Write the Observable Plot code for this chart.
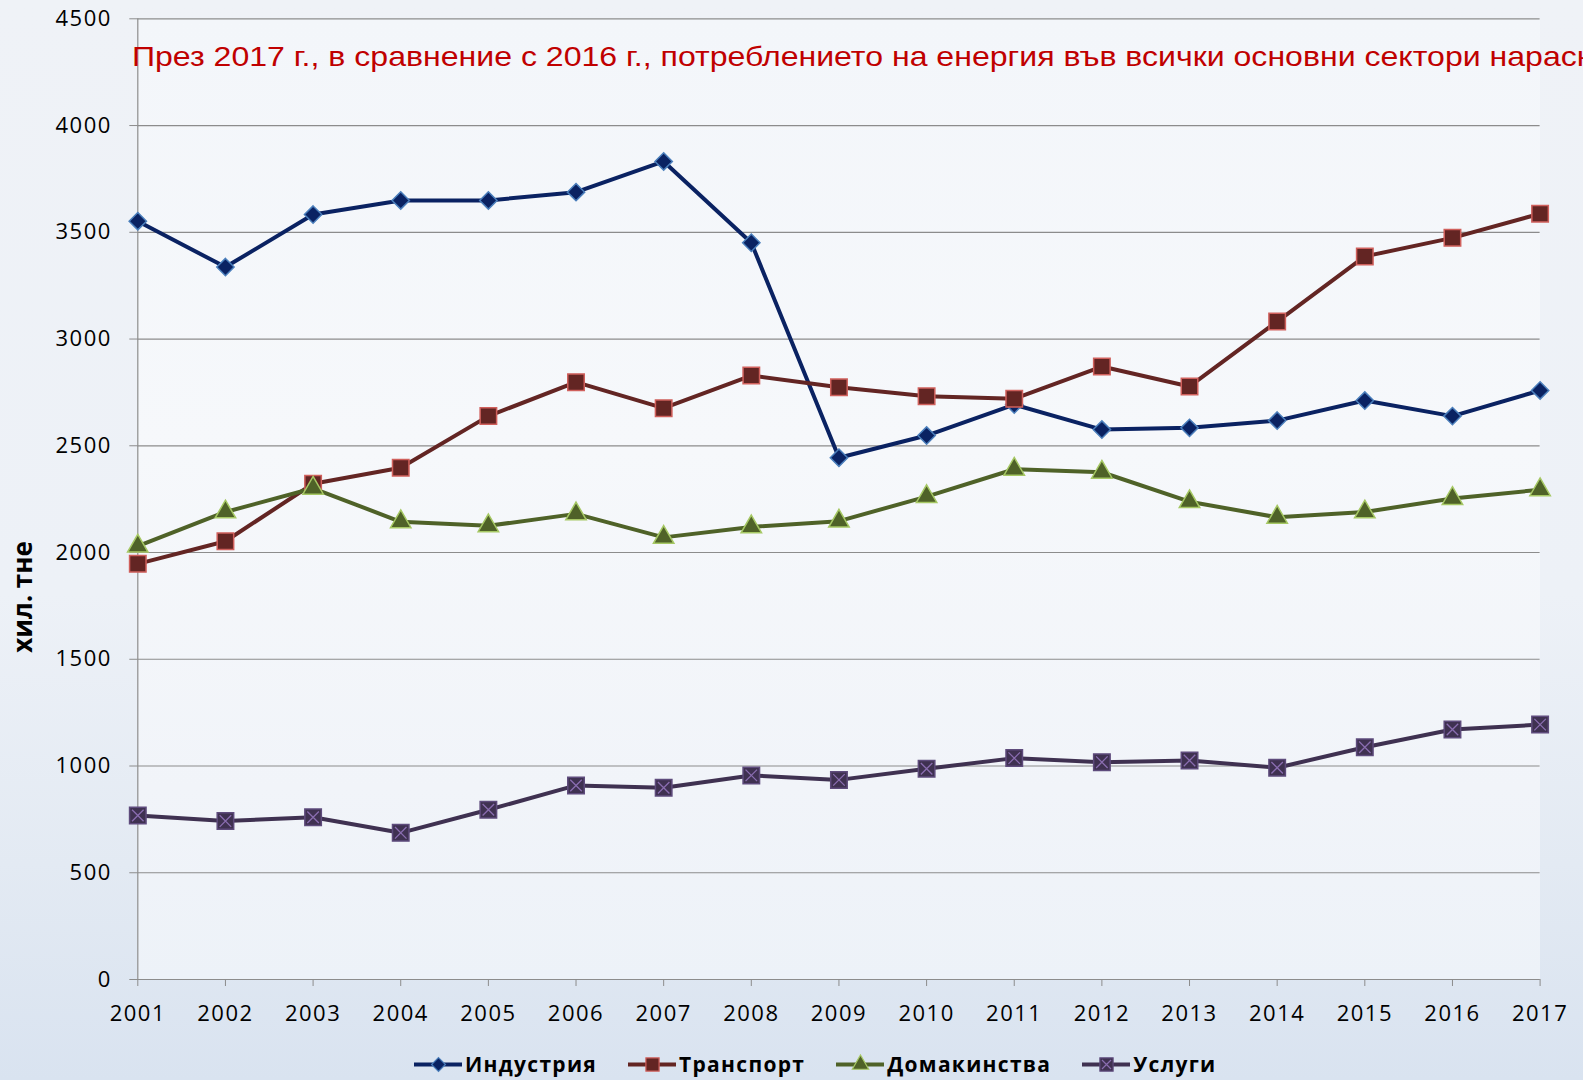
<!DOCTYPE html>
<html>
<head>
<meta charset="utf-8">
<script src="https://cdn.jsdelivr.net/npm/d3@7"></script>
<script src="https://cdn.jsdelivr.net/npm/@observablehq/plot@0.6"></script>
<style>
  html, body { margin: 0; padding: 0; width: 1583px; height: 1080px; overflow: hidden; }
  body {
    position: relative;
    background: linear-gradient(180deg, #EFF2F7 0%, #EDF1F7 55%, #E3EAF3 80%, #D9E3F0 100%);
    font-family: "Open Sans", sans-serif;
  }
  #plotbg {
    position: absolute; left: 137px; top: 18px; width: 1403px; height: 961px;
    background: linear-gradient(180deg, #F3F6FA 0%, #F6F8FB 45%, #F1F4F9 80%, #EDF2F8 100%);
  }
  #chart { position: absolute; left: 0; top: 0; }
  #title {
    position: absolute; left: 132px; top: 43px;
    font-family: "Liberation Sans", Arial, sans-serif; font-size: 28px; line-height: 28px;
    color: #C00000; white-space: nowrap;
    transform: scaleX(1.145); transform-origin: 0 0;
  }
  #ylabel {
    position: absolute; left: 22px; top: 597px;
    transform: translate(-50%, -50%) rotate(-90deg);
    font-family: "Open Sans", sans-serif; font-weight: 700; font-size: 26px;
    white-space: nowrap; color: #000;
  }
  #legend {
    position: absolute; left: 414px; top: 1050px; height: 28px;
    display: flex; align-items: center; gap: 31px;
    font-family: "Open Sans", sans-serif; font-weight: 700; font-size: 21px; color: #000;
    letter-spacing: 1.3px;
  }
  .item { display: flex; align-items: center; gap: 3px; white-space: nowrap; }
  .item svg { display: block; }
</style>
</head>
<body>
<div id="plotbg"></div>
<div id="chart"></div>
<div id="title"></div>
<div id="ylabel"></div>
<div id="legend"></div>
<script>
const years = [2001, 2002, 2003, 2004, 2005, 2006, 2007, 2008, 2009, 2010, 2011, 2012, 2013, 2014, 2015, 2016, 2017];
const seriesNames = ["Индустрия", "Транспорт", "Домакинства", "Услуги"];
const industry   = [3552, 3337, 3583, 3649, 3649, 3688, 3832, 3451, 2444, 2548, 2693, 2576, 2584, 2618, 2712, 2639, 2759];
const transport  = [1947, 2053, 2322, 2397, 2639, 2798, 2676, 2829, 2774, 2732, 2720, 2871, 2778, 3082, 3387, 3474, 3587];
const households = [2030, 2190, 2301, 2144, 2125, 2181, 2071, 2120, 2147, 2262, 2390, 2376, 2238, 2165, 2190, 2253, 2294];
const services   = [768, 742, 760, 687, 795, 909, 898, 956, 935, 987, 1037, 1018, 1026, 992, 1088, 1171, 1194];
const yTicks = [0, 500, 1000, 1500, 2000, 2500, 3000, 3500, 4000, 4500];
const titleText = "През 2017 г., в сравнение с 2016 г., потреблението на енергия във всички основни сектори нарасна.";
const yLabelText = "хил. тне";

const styles = [
  {line: "#0A2262", fill: "#0A2262", stroke: "#4A7EBB", symbol: "diamond2", r: 7.8},
  {line: "#632523", fill: "#632523", stroke: "#D0605C", symbol: "square", r: 9.3},
  {line: "#4F6228", fill: "#4F6228", stroke: "#A6C864", symbol: "triangle", r: 7.6},
  {line: "#3F3151", fill: "#3F3151", stroke: "#5E4B7C", symbol: "square", r: 9.3, cross: "#8A6DB0"}
];
const values = [industry, transport, households, services];
const data = seriesNames.map((name, s) => years.map((year, i) => ({year, value: values[s][i], series: name})));

const marks = [
  Plot.gridY(yTicks, {stroke: "#8C8C8C", strokeOpacity: 1, strokeWidth: 1.2}),
  Plot.ruleX([2001], {stroke: "#8C8C8C", strokeWidth: 1.2}),
  Plot.ruleY([0], {stroke: "#8C8C8C", strokeWidth: 1.2}),
  Plot.axisY({ticks: yTicks, tickFormat: d => String(d), tickSize: 8, tickPadding: 18, stroke: "#8C8C8C", fill: "#000", label: null}),
  Plot.axisX({ticks: years, tickFormat: d => String(d), tickSize: 7, tickPadding: 19, stroke: "#8C8C8C", fill: "#000", label: null})
];
data.forEach((d, s) => {
  const st = styles[s];
  marks.push(Plot.line(d, {x: "year", y: "value", stroke: st.line, strokeWidth: 4, strokeLinejoin: "round"}));
});
data.forEach((d, s) => {
  const st = styles[s];
  marks.push(Plot.dot(d, {x: "year", y: "value", symbol: st.symbol, r: st.r, fill: st.fill, stroke: st.stroke, strokeWidth: 1.5}));
  if (st.cross) marks.push(Plot.dot(d, {x: "year", y: "value", symbol: "times", r: 5.3, stroke: st.cross, strokeWidth: 1.3}));
});

const chart = Plot.plot({
  width: 1583, height: 1040,
  marginLeft: 137.3, marginRight: 43.4, marginTop: 18.3, marginBottom: 61,
  style: {background: "transparent", fontFamily: "'Open Sans', sans-serif", fontSize: "22px", color: "#000", overflow: "visible"},
  x: {type: "linear", domain: [2001, 2017]},
  y: {domain: [0, 4500]},
  marks
});
chart.querySelectorAll("text").forEach(t => t.style.letterSpacing = "1.5px");
document.getElementById("chart").appendChild(chart);
document.getElementById("title").textContent = titleText;
document.getElementById("ylabel").textContent = yLabelText;

// legend
const legend = document.getElementById("legend");
seriesNames.forEach((name, s) => {
  const st = styles[s];
  const item = document.createElement("div");
  item.className = "item";
  const sw = Plot.plot({
    width: 48, height: 24, margin: 0,
    x: {domain: [0, 1], axis: null}, y: {domain: [0, 1], axis: null},
    style: {background: "transparent"},
    marks: [
      Plot.ruleY([0.5], {stroke: st.line, strokeWidth: 4}),
      Plot.dot([0.5], {x: d => d, y: 0.5, symbol: st.symbol, r: st.r * 0.8, fill: st.fill, stroke: st.stroke, strokeWidth: 1.2}),
      ...(st.cross ? [Plot.dot([0.5], {x: d => d, y: 0.5, symbol: "times", r: 4.2, stroke: st.cross, strokeWidth: 1.2})] : [])
    ]
  });
  item.appendChild(sw);
  const label = document.createElement("span");
  label.textContent = name;
  item.appendChild(label);
  legend.appendChild(item);
});
</script>
</body>
</html>
